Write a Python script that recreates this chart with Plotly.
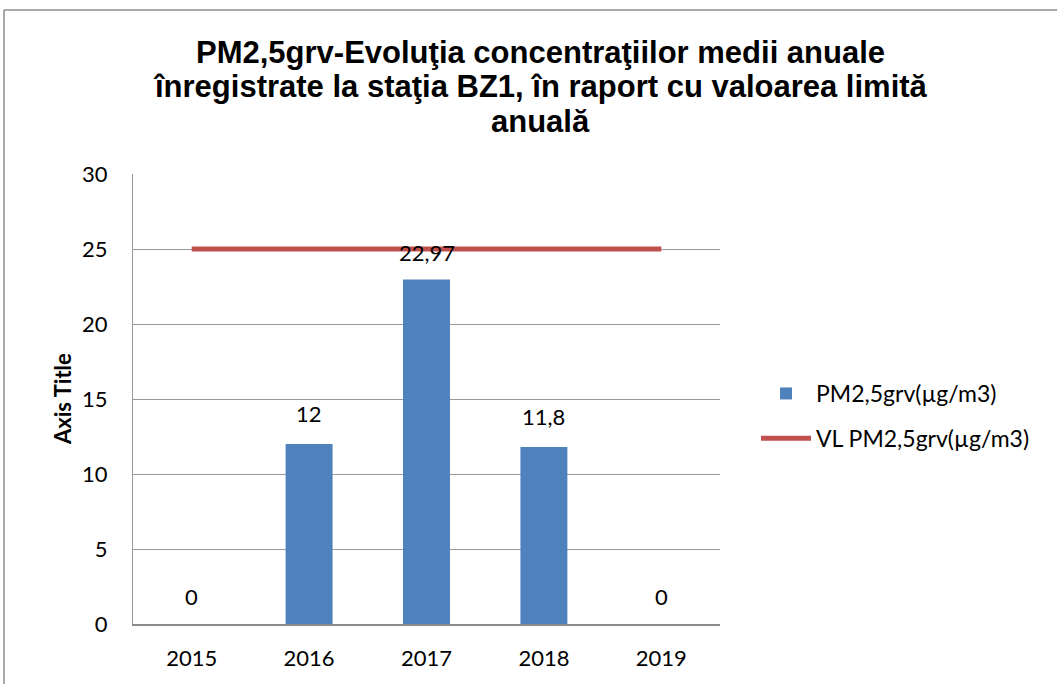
import plotly.graph_objects as go

years = ["2015", "2016", "2017", "2018", "2019"]
pm25 = [0, 12, 22.97, 11.8, 0]
limit = [25, 25, 25, 25, 25]
labels = ["0", "12", "22,97", "11,8", "0"]
label_shift = [28, 31, 27, 31, 28]
title_lines = ["PM2,5grv-Evoluţia concentraţiilor medii anuale",
               "înregistrate la staţia BZ1, în raport cu valoarea limită",
               "anuală"]

W, H = 1057, 684
L, R, T, B = 133, 720, 174, 624   # plot area in reference pixels
pw, ph = R - L, B - T

def px(x):
    return (x - L) / pw

def py(y):
    return (B - y) / ph

FONT = "Lato, 'Open Sans', sans-serif"

fig = go.Figure()
fig.add_trace(go.Bar(x=years, y=pm25, name="PM2,5grv(µg/m3)",
                     marker=dict(color="#4f81bd", line=dict(width=0)),
                     width=0.4, legendgroup="a"))
fig.add_trace(go.Scatter(x=years, y=limit, name="VL PM2,5grv(µg/m3)", mode="lines",
                         line=dict(color="#c0504d", width=5), legendgroup="b"))

annotations = []
for i, (v, t, s) in enumerate(zip(pm25, labels, label_shift)):
    annotations.append(dict(x=i, y=v, text=t, showarrow=False, yshift=s,
                            font=dict(family=FONT, size=22, color="#000")))

for k, line in enumerate(title_lines):
    annotations.append(dict(xref="paper", yref="paper", x=px(540), y=py(52 + 34.5 * k),
                            text="<b>" + line + "</b>", showarrow=False,
                            xanchor="center", yanchor="middle",
                            font=dict(family="Liberation Sans, Arial, sans-serif", size=31, color="#000")))
annotations.append(dict(xref="paper", yref="paper", x=px(62), y=py(399),
                        text="<b>Axis Title</b>", textangle=-90, showarrow=False,
                        xanchor="center", yanchor="middle",
                        font=dict(family=FONT, size=22, color="#000")))

fig.update_layout(
    width=W, height=H,
    margin=dict(l=L, r=W - R, t=T, b=H - B, pad=0),
    paper_bgcolor="white", plot_bgcolor="white",
    showlegend=True,
    legend=dict(x=px(756), y=py(372), xanchor="left", yanchor="top",
                font=dict(family=FONT, size=23, color="#000"),
                tracegroupgap=12, itemwidth=50, bgcolor="rgba(0,0,0,0)"),
    annotations=annotations,
    shapes=[dict(type="line", xref="paper", yref="paper",
                 x0=px(4), x1=px(4), y0=py(690), y1=py(10),
                 line=dict(color="#8c8c8c", width=1.5)),
            dict(type="line", xref="paper", yref="paper",
                 x0=px(4), x1=px(1070), y0=py(10), y1=py(10),
                 line=dict(color="#8c8c8c", width=1.5))],
    xaxis=dict(type="category", range=[-0.5, 4.5], autorange=False, showgrid=False,
               showline=True, linecolor="#8c8c8c", linewidth=2,
               ticks="", tickfont=dict(family=FONT, size=22, color="#000"), ticklabelstandoff=14),
    yaxis=dict(range=[0, 30], dtick=5, showgrid=True, gridcolor="#9a9a9a", gridwidth=1,
               showline=True, linecolor="#9a9a9a", linewidth=1, ticks="", zeroline=False,
               tickfont=dict(family=FONT, size=22, color="#000"), ticklabelstandoff=20),
)

fig.write_html("out.html", config={"displayModeBar": False},
               post_script="document.body.style.margin='0';")
